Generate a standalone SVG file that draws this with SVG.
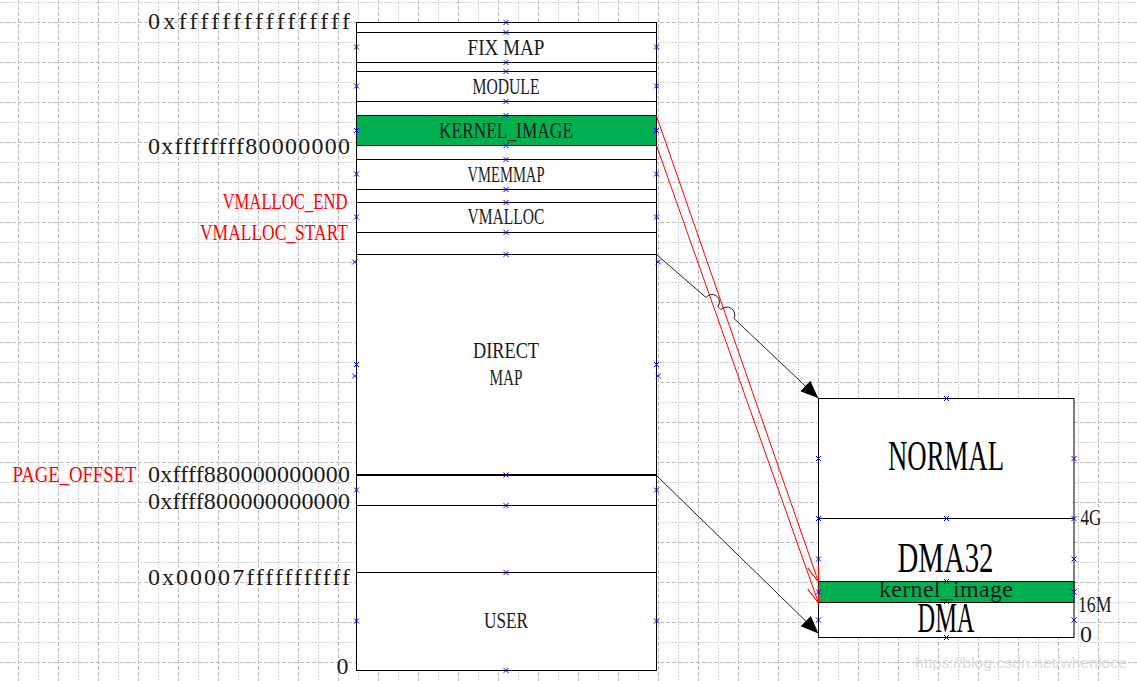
<svg xmlns="http://www.w3.org/2000/svg" xmlns:xlink="http://www.w3.org/1999/xlink" width="1137" height="681" viewBox="0 0 1137 681">
<style>
.gd{fill:none;stroke:#bdbdbd;stroke-width:1;stroke-dasharray:4 2}
.gt{fill:none;stroke:#c4c4c4;stroke-width:1;stroke-dasharray:1.5 1.5}
.box{fill:#fff;stroke:#000;stroke-width:1}
.grn{fill:#00b050;stroke:#000;stroke-width:1}
.ln{stroke:#000;stroke-width:1;fill:none}
.t{font-family:"Liberation Serif","Times New Roman",serif;font-size:24px;fill:#1a1a1a}
.tc{text-anchor:middle}
.big{font-family:"Liberation Serif","Times New Roman",serif;font-size:42px;fill:#000;text-anchor:middle}
.red{fill:#ff0000}
.cp{fill:none;stroke:#0000ff;stroke-width:1}
.blk{fill:none;stroke:#222;stroke-width:1}
.rl{fill:none;stroke:#ff0000;stroke-width:1}
</style>
<defs>
<path id="m" class="cp" d="M-2.5,-2.5L2.5,2.5M-2.5,2.5L2.5,-2.5"/>
<marker id="ab" markerUnits="userSpaceOnUse" markerWidth="20" markerHeight="20" viewBox="-17 -8 18 16" refX="0" refY="0" orient="auto">
<path d="M0,0L-16,-6.5L-16,6.5Z" fill="#000"/>
</marker>
<marker id="ar" markerUnits="userSpaceOnUse" markerWidth="20" markerHeight="20" viewBox="-17 -8 18 16" refX="0" refY="0" orient="auto">
<path d="M0,0L-15,-5M0,0L-15,5" fill="none" stroke="#ff0000" stroke-width="1"/>
</marker>
<clipPath id="kc"><rect x="818.5" y="581.5" width="255.5" height="21"/></clipPath>
</defs>
<rect width="1137" height="681" fill="#fff"/>
<g id="grid">
<path class="gd" d="M18.5 0V681M58.5 0V681M98.5 0V681M138.5 0V681M178.5 0V681M218.5 0V681M258.5 0V681M298.5 0V681M338.5 0V681M378.5 0V681M418.5 0V681M458.5 0V681M498.5 0V681M538.5 0V681M578.5 0V681M618.5 0V681M658.5 0V681M698.5 0V681M738.5 0V681M778.5 0V681M818.5 0V681M858.5 0V681M898.5 0V681M938.5 0V681M978.5 0V681M1018.5 0V681M1058.5 0V681M1098.5 0V681M0 22.5H1137M0 62.5H1137M0 102.5H1137M0 142.5H1137M0 182.5H1137M0 222.5H1137M0 262.5H1137M0 302.5H1137M0 342.5H1137M0 382.5H1137M0 422.5H1137M0 462.5H1137M0 502.5H1137M0 542.5H1137M0 582.5H1137M0 622.5H1137M0 662.5H1137"/>
<path class="gt" d="M38.5 0V681M78.5 0V681M118.5 0V681M158.5 0V681M198.5 0V681M238.5 0V681M278.5 0V681M318.5 0V681M358.5 0V681M398.5 0V681M438.5 0V681M478.5 0V681M518.5 0V681M558.5 0V681M598.5 0V681M638.5 0V681M678.5 0V681M718.5 0V681M758.5 0V681M798.5 0V681M838.5 0V681M878.5 0V681M918.5 0V681M958.5 0V681M998.5 0V681M1038.5 0V681M1078.5 0V681M1118.5 0V681M0 2.5H1137M0 42.5H1137M0 82.5H1137M0 122.5H1137M0 162.5H1137M0 202.5H1137M0 242.5H1137M0 282.5H1137M0 322.5H1137M0 362.5H1137M0 402.5H1137M0 442.5H1137M0 482.5H1137M0 522.5H1137M0 562.5H1137M0 602.5H1137M0 642.5H1137"/>
</g>
<g id="virtual-space">
<rect class="box" x="356.5" y="22.5" width="300" height="648"/>
<path class="ln" d="M356.5 32.5H656.5M356.5 62.5H656.5M356.5 71.5H656.5M356.5 101.5H656.5M356.5 159.5H656.5M356.5 189.5H656.5M356.5 202.5H656.5M356.5 232.5H656.5M356.5 254.5H656.5M356.5 505.5H656.5M356.5 572.5H656.5"/>
<path d="M356.5 475H656.5" stroke="#000" stroke-width="2"/>
</g>
<g id="fix-map"><text class="t tc" x="506" y="54.5" textLength="77" lengthAdjust="spacingAndGlyphs">FIX MAP</text></g>
<g id="module"><text class="t tc" x="506" y="93.5" textLength="67" lengthAdjust="spacingAndGlyphs">MODULE</text></g>
<g id="kernel-image">
<rect class="grn" x="356.5" y="115.5" width="300" height="30"/>
<text class="t tc" x="506" y="137.5" textLength="134" lengthAdjust="spacingAndGlyphs">KERNEL_IMAGE</text>
</g>
<g id="vmemmap"><text class="t tc" x="506" y="181.5" textLength="77" lengthAdjust="spacingAndGlyphs">VMEMMAP</text></g>
<g id="vmalloc"><text class="t tc" x="506" y="224" textLength="77" lengthAdjust="spacingAndGlyphs">VMALLOC</text></g>
<g id="direct-map">
<text class="t tc" x="506" y="357.5" textLength="66" lengthAdjust="spacingAndGlyphs">DIRECT</text>
<text class="t tc" x="506" y="384.5" textLength="33" lengthAdjust="spacingAndGlyphs">MAP</text>
</g>
<g id="user"><text class="t tc" x="506" y="628" textLength="44" lengthAdjust="spacingAndGlyphs">USER</text></g>
<g id="left-labels">
<text class="t" x="148" y="29" textLength="202" lengthAdjust="spacing">0xffffffffffffffff</text>
<text class="t" x="148" y="153.5" textLength="202" lengthAdjust="spacing">0xffffffff80000000</text>
<text class="t red" x="222.5" y="208.5" textLength="125" lengthAdjust="spacingAndGlyphs">VMALLOC_END</text>
<text class="t red" x="200" y="240" textLength="148" lengthAdjust="spacingAndGlyphs">VMALLOC_START</text>
<text class="t red" x="12.5" y="481.5" textLength="124" lengthAdjust="spacingAndGlyphs">PAGE_OFFSET</text>
<text class="t" x="148" y="481.5" textLength="202" lengthAdjust="spacing">0xffff880000000000</text>
<text class="t" x="148" y="508.5" textLength="202" lengthAdjust="spacing">0xffff800000000000</text>
<text class="t" x="148" y="585" textLength="202" lengthAdjust="spacing">0x00007fffffffffff</text>
<text class="t" x="336.5" y="674">0</text>
</g>
<g id="physical-space">
<rect class="box" x="818.5" y="398.5" width="255.5" height="239"/>
<path class="ln" d="M818.5 518.5H1074"/>
</g>
<g id="normal"><text class="big" x="946" y="470" textLength="116" lengthAdjust="spacingAndGlyphs">NORMAL</text></g>
<g id="dma32"><text class="big" x="945.5" y="571.5" textLength="96" lengthAdjust="spacingAndGlyphs">DMA32</text></g>
<g id="kernel-image-phys">
<rect class="grn" x="818.5" y="581.5" width="255.5" height="21"/>
<text class="t tc" x="946" y="597" font-size="22" textLength="134" lengthAdjust="spacing" clip-path="url(#kc)">kernel_image</text>
</g>
<g id="dma"><text class="big" x="946" y="631.5" textLength="57" lengthAdjust="spacingAndGlyphs">DMA</text></g>
<g id="right-labels">
<text class="t" x="1080.5" y="524.5" textLength="21" lengthAdjust="spacingAndGlyphs">4G</text>
<text class="t" x="1078" y="612" textLength="33.5" lengthAdjust="spacingAndGlyphs">16M</text>
<text class="t" x="1080" y="641.5">0</text>
</g>
<g id="connectors">
<path class="blk" d="M656.5 254.5L706 297.5A7.5 7.5 0 0 1 718 306.5L721 309.5A8 8 0 0 1 734 318.5L818.3 398.3" marker-end="url(#ab)"/>
<path class="blk" d="M656.5 475.5L818.5 633.5" marker-end="url(#ab)"/>
<path class="rl" d="M656.5 116L818.5 582" marker-end="url(#ar)"/>
<path class="rl" d="M656.5 145.5L818.5 603" marker-end="url(#ar)"/>
</g>
<g id="connection-points">
<use href="#m" x="506" y="22.5"/><use href="#m" x="506" y="32.5"/><use href="#m" x="506" y="62.5"/><use href="#m" x="506" y="71.5"/><use href="#m" x="506" y="101.5"/><use href="#m" x="506" y="115.5"/><use href="#m" x="506" y="145.5"/><use href="#m" x="506" y="159.5"/><use href="#m" x="506" y="189.5"/><use href="#m" x="506" y="202.5"/><use href="#m" x="506" y="232.5"/><use href="#m" x="506" y="254.5"/><use href="#m" x="506" y="475"/><use href="#m" x="506" y="505.5"/><use href="#m" x="506" y="572.5"/><use href="#m" x="506" y="670.5"/>
<use href="#m" x="356.5" y="47"/><use href="#m" x="356.5" y="86"/><use href="#m" x="356.5" y="130.5"/><use href="#m" x="356.5" y="174"/><use href="#m" x="356.5" y="217"/><use href="#m" x="354.7" y="262"/><use href="#m" x="356.5" y="364.5"/><use href="#m" x="354.7" y="376"/><use href="#m" x="356.5" y="490"/><use href="#m" x="356.5" y="621"/>
<use href="#m" x="656.5" y="47"/><use href="#m" x="656.5" y="86"/><use href="#m" x="656.5" y="130.5"/><use href="#m" x="656.5" y="174"/><use href="#m" x="656.5" y="217"/><use href="#m" x="658.3" y="262"/><use href="#m" x="656.5" y="364.5"/><use href="#m" x="658.3" y="376"/><use href="#m" x="656.5" y="490"/><use href="#m" x="656.5" y="621"/>
<use href="#m" x="946.5" y="398.5"/><use href="#m" x="946.5" y="518.5"/><use href="#m" x="946.5" y="581.5"/><use href="#m" x="946.5" y="601.5"/><use href="#m" x="946.5" y="637.5"/>
<use href="#m" x="818.5" y="458.5"/><use href="#m" x="818.5" y="518.5"/><use href="#m" x="818.5" y="559"/><use href="#m" x="818.5" y="592"/><use href="#m" x="818.5" y="620"/>
<use href="#m" x="1074" y="458.5"/><use href="#m" x="1074" y="518.5"/><use href="#m" x="1074" y="559"/><use href="#m" x="1074" y="592"/><use href="#m" x="1074" y="620"/>
</g>
<text x="915" y="668" font-family="'Liberation Sans',sans-serif" font-size="15" fill="#dcdcdc" textLength="212" lengthAdjust="spacingAndGlyphs">https://blog.csdn.net/whenloce</text>
</svg>
